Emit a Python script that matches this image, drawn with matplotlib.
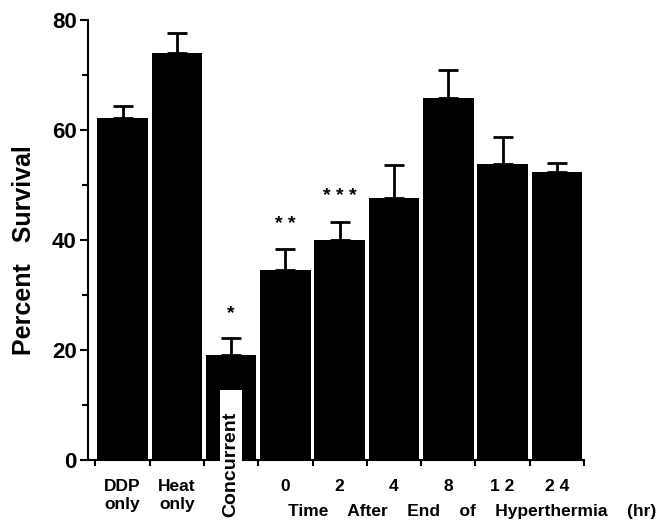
import matplotlib
matplotlib.use('Agg')
from matplotlib import pyplot as plt
from matplotlib.patches import Rectangle

labels = ['DDP\nonly', 'Heat\nonly', '', '0', '2', '4', '8', '1 2', '2 4']
survival = [62.2, 74.0, 19.1, 34.5, 40.0, 47.6, 65.8, 53.8, 52.4]
errors = [2.2, 3.6, 3.0, 3.8, 3.3, 6.0, 5.1, 4.9, 1.6]
stars = {2: '*', 3: '* *', 4: '* * *'}

plt.rcParams['font.family'] = ['Liberation Sans', 'DejaVu Sans']
plt.rcParams['font.weight'] = 'bold'

fig = plt.figure(figsize=(6.6, 5.21), dpi=100)
ax = fig.add_axes([0.133, 0.117, 0.752, 0.845])

x = list(range(len(survival)))
ax.bar(x, survival, width=0.93, color='black')
ax.errorbar(x, survival, yerr=[[0] * len(errors), errors], fmt='none',
            ecolor='black', elinewidth=2, capsize=7, capthick=2)

for i, s in stars.items():
    ax.text(i, survival[i] + errors[i] + 3, s, ha='center', va='bottom',
            fontsize=14, fontweight='bold')

ax.set_xlim(-0.64, 8.5)
ax.set_ylim(0, 80)
ax.spines['top'].set_visible(False)
ax.spines['right'].set_visible(False)
ax.spines['left'].set_linewidth(1.5)
ax.spines['bottom'].set_linewidth(1.5)

ax.set_yticks([0, 20, 40, 60, 80])
ax.set_yticks([10, 30, 50, 70], minor=True)
ax.tick_params(axis='y', which='major', length=6, width=1.5, labelsize=16, pad=2)
ax.tick_params(axis='y', which='minor', length=4, width=1.5)

ax.set_xticks(x)
ax.set_xticklabels(labels, fontsize=12.5, fontweight='bold', linespacing=1.2)
ax.set_xticks([i + 0.5 for i in range(-1, 9)], minor=True)
ax.tick_params(axis='x', which='major', length=0, pad=14)
ax.tick_params(axis='x', which='minor', length=4, width=1.5)

# white label box cut into the concurrent bar
box = Rectangle((2 - 0.2, -10.4), 0.4, 12.7 + 10.4, facecolor='white',
                edgecolor='none', clip_on=False, zorder=3)
ax.add_patch(box)
ax.text(2, -0.8, 'Concurrent', rotation=90, ha='center', va='center',
        fontsize=14, fontweight='bold', clip_on=False, zorder=4)

ax.set_ylabel('Percent   Survival', fontsize=18, fontweight='bold')
ax.yaxis.set_label_coords(-0.105, 0.477)
fig.text(0.715, 0.019, 'Time    After    End    of    Hyperthermia    (hr)',
         ha='center', va='center', fontsize=12.5, fontweight='bold')

plt.savefig('out.png', dpi=100)
